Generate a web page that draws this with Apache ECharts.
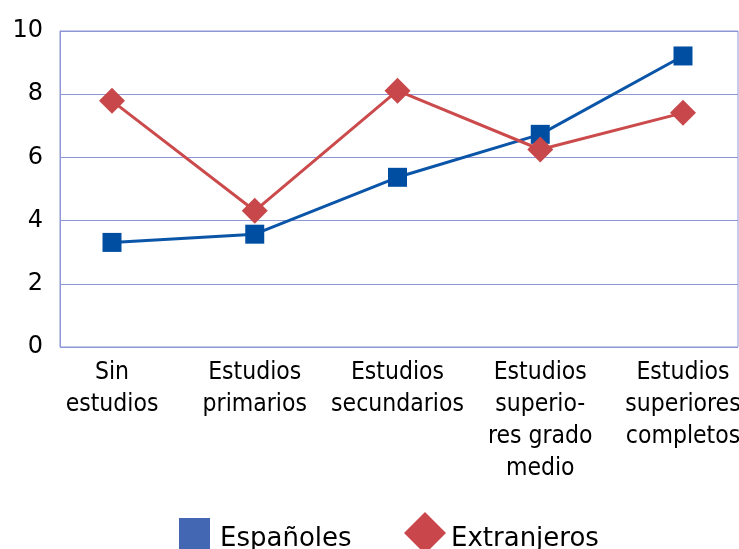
<!DOCTYPE html>
<html>
<head>
<meta charset="utf-8">
<script src="https://cdn.jsdelivr.net/npm/echarts@6/dist/echarts.min.js"></script>
<style>
  html, body { margin: 0; padding: 0; background: #fff; }
  #chart { width: 739px; height: 549px; }
</style>
</head>
<body>
<div id="chart"></div>
<script>
var categories = ['Sin\nestudios', 'Estudios\nprimarios', 'Estudios\nsecundarios', 'Estudios\nsuperio-\nres grado\nmedio', 'Estudios\nsuperiores\ncompletos']
var espanoles = [3.31, 3.57, 5.37, 6.73, 9.21]
var extranjeros = [7.79, 4.31, 8.11, 6.25, 7.41]
var yTicks = [0, 2, 4, 6, 8, 10]

var font = 'DejaVu Sans, Verdana, sans-serif'
var narrowFont = 'DejaVu Sans Condensed, DejaVu Sans, sans-serif'
var gridColor = '#8e97d6'

function legendText(leftPad) {
  return {
    fontFamily: font,
    fontSize: 26,
    color: '#000',
    rich: {
      t: { fontFamily: font, fontSize: 26, color: '#000', padding: [12, 0, 0, leftPad] }
    }
  }
}

var chart = echarts.init(document.getElementById('chart'))
chart.setOption({
  animation: false,
  // grid 0 holds the data points, grid 1 draws the visible frame and y labels
  grid: [
    { left: 112, right: 56, top: 31, bottom: 202, outerBoundsMode: 'none', containLabel: false },
    { left: 60, right: 1, top: 31, bottom: 202, outerBoundsMode: 'none', show: true, borderColor: gridColor, borderWidth: 1 }
  ],
  legend: [
    {
      left: 179, top: 518, padding: 0, itemWidth: 31, itemHeight: 31,
      formatter: '{t|{name}}',
      data: [{ name: 'Españoles', icon: 'rect', itemStyle: { color: '#4467b4' } }],
      textStyle: legendText(5)
    },
    {
      left: 404, top: 512, padding: 0, itemWidth: 42, itemHeight: 42,
      formatter: '{t|{name}}',
      data: [{ name: 'Extranjeros', icon: 'diamond', itemStyle: { color: '#c9474a' } }],
      textStyle: legendText(0)
    }
  ],
  xAxis: [
    {
      type: 'category',
      gridIndex: 0,
      data: categories,
      boundaryGap: false,
      axisLine: { show: false },
      axisTick: { show: false },
      axisLabel: {
        interval: 0,
        margin: 10,
        fontFamily: narrowFont,
        fontSize: 24.5,
        lineHeight: 32,
        color: '#000',
        align: 'center'
      }
    },
    {
      type: 'value',
      gridIndex: 1,
      show: false
    }
  ],
  yAxis: [
    { type: 'value', gridIndex: 0, min: 0, max: 10, interval: 2, show: false },
    {
      type: 'value',
      gridIndex: 1,
      min: yTicks[0],
      max: yTicks[yTicks.length - 1],
      interval: 2,
      axisLine: { show: true, lineStyle: { color: gridColor } },
      axisTick: { show: false },
      splitLine: { lineStyle: { color: gridColor, width: 1 } },
      axisLabel: { margin: 17, fontFamily: font, fontSize: 24, color: '#000' }
    }
  ],
  series: [
    {
      name: 'Españoles',
      type: 'line',
      xAxisIndex: 0,
      yAxisIndex: 0,
      data: espanoles,
      symbol: 'rect',
      symbolSize: 19,
      clip: false,
      itemStyle: { color: '#004ea2' },
      lineStyle: { color: '#0a55a8', width: 3 },
      z: 2
    },
    {
      name: 'Extranjeros',
      type: 'line',
      xAxisIndex: 0,
      yAxisIndex: 0,
      data: extranjeros,
      symbol: 'diamond',
      symbolSize: 26,
      clip: false,
      itemStyle: { color: '#c8474a' },
      lineStyle: { color: '#cb4a4c', width: 3 },
      z: 3
    }
  ]
})
</script>
</body>
</html>
